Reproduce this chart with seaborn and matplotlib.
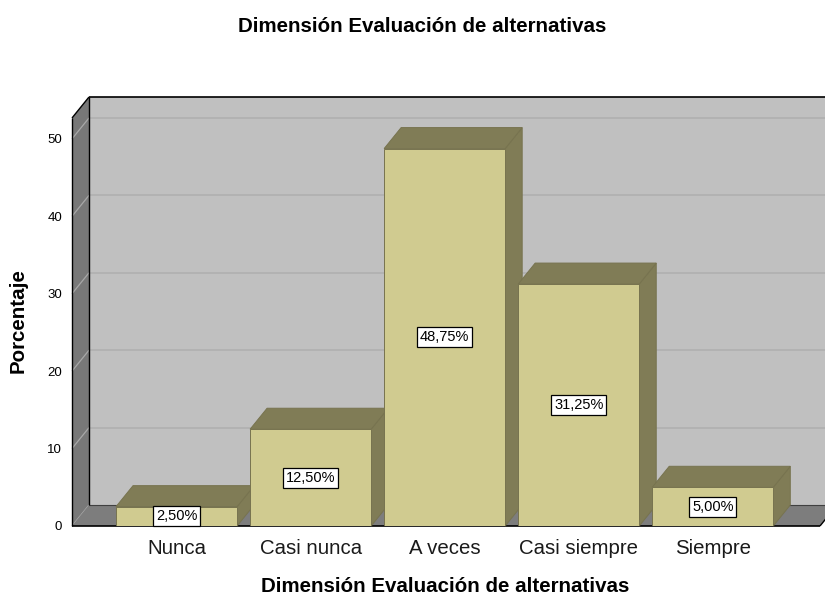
import matplotlib
matplotlib.use("Agg")
import matplotlib.pyplot as plt
from matplotlib.patches import Polygon
import seaborn as sns
import pandas as pd

categories = ["Nunca", "Casi nunca", "A veces", "Casi siempre", "Siempre"]
percentages = [2.50, 12.50, 48.75, 31.25, 5.00]
value_labels = ["2,50%", "12,50%", "48,75%", "31,25%", "5,00%"]
y_ticks = [0, 10, 20, 30, 40, 50]
title_text = "Dimensión Evaluación de alternativas"
xlabel_text = "Dimensión Evaluación de alternativas"
ylabel_text = "Porcentaje"

FRONT = "#d0cb90"
DARK = "#807c56"
EDGE = "#77734f"
WALL = "#c0c0c0"
SIDE = "#787878"
FLOOR = "#7d7d7d"
GRID = "#b0b0b0"

sns.set_theme(style="white")
plt.rcParams['font.family'] = ['Liberation Sans', 'DejaVu Sans']
plt.rcParams['text.color'] = 'black'

W, H = 825, 597
fig = plt.figure(figsize=(W / 100, H / 100), dpi=100)
ax_left, ax_right, ax_top, ax_bottom = 72, 820, 118, 526
ax = fig.add_axes([ax_left / W, (H - ax_bottom) / H,
                   (ax_right - ax_left) / W, (ax_bottom - ax_top) / H])
ax.set_facecolor("none")

df = pd.DataFrame({"cat": categories, "pct": percentages})
sns.barplot(data=df, x="cat", y="pct", color=FRONT, saturation=1,
            width=0.903, edgecolor=EDGE, linewidth=0.7, ax=ax, errorbar=None)

x0, x1 = -0.78, 4.80
y0, y1 = 0, 52.7
ax.set_xlim(x0, x1)
ax.set_ylim(y0, y1)

# depth offset (17 px right, 21 px up) converted to data units
dx = 17 * (x1 - x0) / (ax_right - ax_left)
dy = 21 * (y1 - y0) / (ax_bottom - ax_top)

def poly(pts, fc, ec="none", lw=0, z=1):
    p = Polygon(pts, closed=True, facecolor=fc, edgecolor=ec, linewidth=lw,
                zorder=z, clip_on=False)
    ax.add_patch(p)

def line(xs, ys, color, lw=1.0, z=1):
    ax.plot(xs, ys, color=color, lw=lw, zorder=z, clip_on=False,
            solid_capstyle="butt")

xr = x1 + dx + 0.5  # back wall runs off the right edge
# back wall
poly([(x0 + dx, dy), (xr, dy), (xr, y1 + dy), (x0 + dx, y1 + dy)], WALL, z=0.5)
for t in y_ticks[1:]:
    line([x0 + dx, xr], [t + dy, t + dy], GRID, 1.2, 0.6)
# left side wall
poly([(x0, 0), (x0 + dx, dy), (x0 + dx, y1 + dy), (x0, y1)], SIDE, z=0.7)
for t in y_ticks:
    line([x0, x0 + dx], [t, t + dy], "#a8a8a8", 0.9, 0.8)
# floor
poly([(x0, 0), (x1, 0), (x1 + dx, dy), (x0 + dx, dy)], FLOOR, z=0.9)
line([x0 + dx, xr], [dy, dy], "#404040", 0.8, 0.95)
# outlines
line([x0, x0], [0, y1], "black", 1.0, 1.0)
line([x0, x0 + dx], [y1, y1 + dy], "black", 1.0, 1.0)
line([x0 + dx, x0 + dx], [dy, y1 + dy], "black", 1.0, 1.0)
line([x0 + dx, xr], [y1 + dy, y1 + dy], "black", 1.2, 1.0)
line([x0, x1], [0, 0], "black", 1.2, 1.0)
line([x1, x1 + dx], [0, dy], "black", 1.0, 1.0)

# 3D bars
for i, (bar, lab) in enumerate(zip(ax.patches, value_labels)):
    bx, bw, bh = bar.get_x(), bar.get_width(), bar.get_height()
    z = 2 + 2 * i
    poly([(bx + bw, 0), (bx + bw + dx, dy), (bx + bw + dx, bh + dy), (bx + bw, bh)],
         DARK, EDGE, 0.7, z)
    poly([(bx, bh), (bx + bw, bh), (bx + bw + dx, bh + dy), (bx + dx, bh + dy)],
         DARK, EDGE, 0.7, z)
    bar.set_zorder(z + 1)
    ax.text(bx + bw / 2, bh / 2, lab, ha="center", va="center", fontsize=10.5,
            color="black", zorder=20,
            bbox=dict(boxstyle="square,pad=0.2", fc="white", ec="black", lw=0.9))

for s in ax.spines.values():
    s.set_visible(False)
ax.set_yticks(y_ticks)
ax.set_yticklabels([str(t) for t in y_ticks])
ax.tick_params(axis="y", length=0, pad=7, labelsize=9.5, labelcolor="black")
ax.tick_params(axis="x", length=0, pad=9, labelsize=14.7, labelcolor="#1a1a1a")
ax.set_xlabel("")
ax.set_ylabel("")

fig.text(422 / W, 1 - 27 / H, title_text, ha="center", va="center",
         fontsize=14.8, fontweight="bold", color="black")
fig.text(445 / W, 1 - 587 / H, xlabel_text, ha="center", va="center",
         fontsize=14.8, fontweight="bold", color="black")
fig.text(18 / W, 1 - 321 / H, ylabel_text, ha="center", va="center",
         rotation=90, fontsize=14.8, fontweight="bold", color="black")

fig.savefig("out.png", dpi=100, facecolor="white")
